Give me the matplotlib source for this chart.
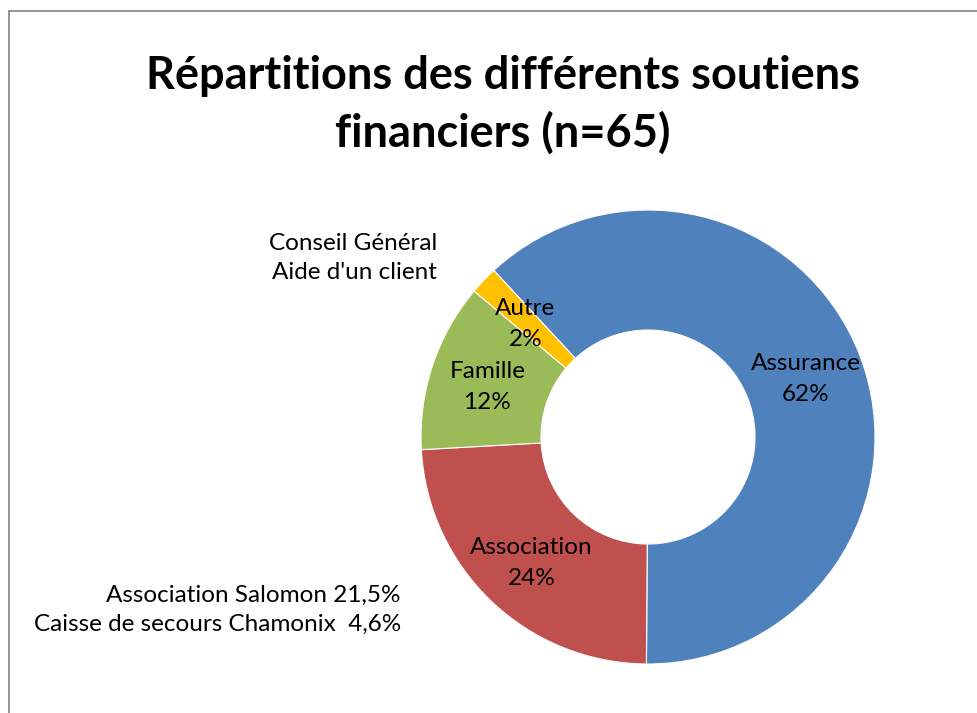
import matplotlib
matplotlib.use('Agg')
import matplotlib.pyplot as plt
from matplotlib.lines import Line2D
import numpy as np

plt.rcParams['font.family'] = ['Lato', 'DejaVu Sans']

# ── Données ───────────────────────────────────
categories = ['Assurance', 'Association', 'Famille', 'Autre']
percents   = [62, 24, 12, 2]
colors     = ['#4F81BD', '#C0504D', '#9BBB59', '#FFC000']

title = 'Répartitions des différents soutiens\nfinanciers (n=65)'
note_autre = "Conseil Général\nAide d'un client"
note_asso  = 'Association Salomon 21,5%\nCaisse de secours Chamonix  4,6%'

W, H = 977, 713
fig = plt.figure(figsize=(W / 100, H / 100), dpi=100)

# axe carré centré sur l'anneau (pixels -> fractions)
cx, cy, R = 648, 437, 227
ax = fig.add_axes([(cx - R) / W, (H - cy - R) / H, 2 * R / W, 2 * R / H])
ax.set_aspect('equal')
ax.axis('off')

hole = 107 / R
wedges, _ = ax.pie(percents, colors=colors, startangle=132.8, counterclock=False,
                   radius=1, wedgeprops=dict(width=1 - hole, edgecolor='white', linewidth=0.8))
ax.set_xlim(-1, 1)
ax.set_ylim(-1, 1)

# étiquettes au milieu de l'anneau, légèrement décalées vers le bas
r_lab = (1 + hole) / 2 + 0.01
for w, name, p in zip(wedges, categories, percents):
    ang = np.deg2rad((w.theta1 + w.theta2) / 2)
    ax.text(r_lab * np.cos(ang), r_lab * np.sin(ang) - 0.015, f'{name}\n{p}%',
            ha='center', va='center', fontsize=17.5, linespacing=1.6)

fig.text(503 / W, 1 - 105 / H, title, ha='center', va='center',
         fontsize=32.5, fontweight='bold', linespacing=1.42)

fig.text(437 / W, 1 - 258 / H, note_autre, ha='right', va='center',
         fontsize=17.5, linespacing=1.45)
fig.text(401 / W, 1 - 610 / H, note_asso, ha='right', va='center',
         fontsize=17.5, linespacing=1.5)

# cadre du graphique (haut et gauche)
fig.add_artist(Line2D([9 / W, 1], [1 - 11 / H, 1 - 11 / H], color='#8c8c8c', lw=1.3))
fig.add_artist(Line2D([9 / W, 9 / W], [0, 1 - 11 / H], color='#8c8c8c', lw=1.3))

fig.savefig('out.png', dpi=100)
